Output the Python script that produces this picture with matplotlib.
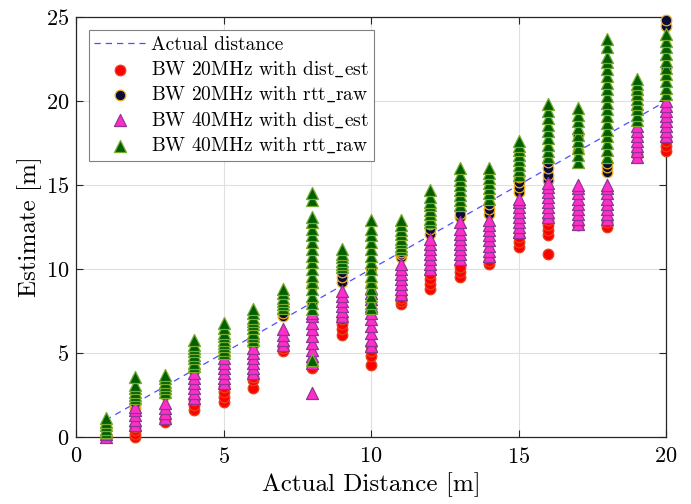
import matplotlib
matplotlib.use("Agg")
import matplotlib.pyplot as plt
import numpy as np

plt.rcParams["font.family"] = ["cmr10", "DejaVu Serif"]
plt.rcParams["mathtext.fontset"] = "cm"
plt.rcParams["axes.formatter.use_mathtext"] = True

distances = list(range(1, 21))

# BW 20MHz with dist_est, one list per actual distance
est20_dist = [
    [0.0, 0.05], [0.0, 0.2, 0.4, 0.6], [0.9, 1.1], [1.6, 1.9, 2.2],
    [2.1, 2.4, 2.7, 3.0], [2.9, 3.4, 3.6], [5.1, 5.3], [4.1, 4.4],
    [6.1, 6.4, 6.7, 7.0], [4.3, 4.8, 5.1, 5.4], [7.9, 8.1, 8.3], [8.8, 9.1, 9.4, 9.7],
    [9.5, 9.8, 10.1], [10.3, 10.5], [11.3, 11.6, 11.9], [10.9, 12.0, 12.3, 12.6, 12.9],
    [12.6], [12.5, 12.8], [16.8], [17.0, 17.3, 17.6],
]
# BW 20MHz with rtt_raw
est20_rtt = [
    [0.4, 0.6], [1.7, 1.9, 2.0], [2.5, 2.6, 2.8], [3.9, 4.1],
    [4.8, 5.0], [5.5, 5.7, 5.9], [7.2, 7.4], [8.0, 9.0],
    [9.2, 9.5, 9.8], [9.0, 10.0], [10.7, 10.9, 11.0], [12.1, 12.4, 12.7],
    [13.1, 13.3], [13.3, 13.6, 13.9], [14.6, 14.9, 15.2, 15.5], [15.3, 15.6, 16.0, 16.4],
    [17.0, 18.0], [15.8, 16.1, 16.3], [19.5, 20.5], [22.0, 24.5, 24.8],
]
# BW 40MHz with dist_est
est40_dist = [
    [0.0, 0.2], [0.7, 1.0, 1.3, 1.6, 1.8], [1.1, 1.4, 1.7, 2.0],
    [2.3, 2.6, 2.9, 3.2, 3.5, 3.8], [3.2, 3.5, 3.8, 4.1, 4.4, 4.7],
    [3.8, 4.1, 4.4, 4.7, 5.0, 5.3], [5.5, 5.8, 6.1, 6.4],
    [2.6, 4.4, 4.8, 5.2, 5.6, 6.0, 6.4, 6.8, 7.2, 7.4],
    [7.2, 7.5, 7.8, 8.1, 8.4, 8.7],
    [5.4, 5.8, 6.2, 6.6, 7.0, 7.4, 7.8, 8.2, 8.6, 8.9],
    [8.5, 8.8, 9.1, 9.4, 9.7, 10.0, 10.3],
    [10.0, 10.3, 10.6, 10.9, 11.2, 11.5, 11.8],
    [10.6, 10.9, 11.2, 11.5, 11.8, 12.1, 12.4, 12.8],
    [10.8, 11.1, 11.4, 11.7, 12.0, 12.3, 12.6, 12.9],
    [12.2, 12.5, 12.8, 13.1, 13.4, 13.7, 14.0, 14.2],
    [13.1, 13.4, 13.7, 14.0, 14.3, 14.6, 14.9, 15.1],
    [12.7, 13.0, 13.3, 13.6, 13.9, 14.2, 14.5, 14.8, 15.0],
    [13.0, 13.3, 13.6, 13.9, 14.2, 14.5, 14.8, 15.0],
    [16.7, 17.0, 17.3, 17.6, 17.9, 18.2, 18.5],
    [17.9, 18.2, 18.5, 18.8, 19.1, 19.4, 19.7, 20.0],
]
# BW 40MHz with rtt_raw
est40_rtt = [
    [0.3, 0.5, 0.7, 0.9, 1.1], [2.3, 2.5, 2.7, 2.9, 3.1, 3.6],
    [2.7, 2.9, 3.1, 3.3, 3.5, 3.7], [4.2, 4.4, 4.7, 4.9, 5.1, 5.3, 5.5, 5.8],
    [5.0, 5.2, 5.4, 5.6, 5.8, 6.0, 6.2, 6.5, 6.8],
    [5.8, 6.0, 6.2, 6.5, 6.7, 6.9, 7.1, 7.4, 7.6],
    [7.7, 7.9, 8.1, 8.3, 8.6, 8.8],
    [4.6, 7.6, 8.0, 8.4, 8.8, 9.2, 9.6, 10.0, 10.4, 10.8, 11.2, 11.6,
     12.0, 12.4, 12.8, 13.1, 14.1, 14.5],
    [10.1, 10.3, 10.5, 10.7, 10.9, 11.2],
    [7.7, 8.0, 8.4, 8.8, 9.2, 9.6, 10.0, 10.4, 10.8, 11.2, 11.6, 12.0, 12.4, 12.9],
    [11.2, 11.4, 11.6, 11.8, 12.1, 12.3, 12.6, 12.9],
    [12.8, 13.0, 13.3, 13.5, 13.8, 14.0, 14.3, 14.7],
    [13.8, 14.1, 14.4, 14.7, 15.0, 15.3, 15.6, 16.0],
    [14.2, 14.5, 14.8, 15.1, 15.4, 15.7, 16.0],
    [15.6, 15.9, 16.2, 16.5, 16.8, 17.1, 17.3, 17.6],
    [16.7, 17.0, 17.4, 17.8, 18.2, 18.6, 19.0, 19.4, 19.8],
    [16.4, 16.8, 17.2, 17.6, 18.0, 18.4, 18.8, 19.2, 19.6],
    [16.7, 17.1, 17.5, 17.9, 18.3, 18.7, 19.1, 19.5, 19.9, 20.3, 20.7,
     21.1, 21.5, 21.9, 22.3, 22.6, 23.2, 23.7],
    [18.9, 19.2, 19.5, 19.8, 20.1, 20.4, 20.7, 21.0, 21.3],
    [20.4, 20.8, 21.2, 21.6, 22.0, 22.4, 22.8, 23.2, 23.6, 24.0],
]

legend_labels = [
    "Actual distance",
    r"BW 20MHz with dist$\_$est",
    r"BW 20MHz with rtt$\_$raw",
    r"BW 40MHz with dist$\_$est",
    r"BW 40MHz with rtt$\_$raw",
]


def flatten(groups):
    xs = [d for d, vals in zip(distances, groups) for _ in vals]
    ys = [v for vals in groups for v in vals]
    return xs, ys


fig = plt.figure(figsize=(6.91, 5.04), dpi=100)
ax = fig.add_axes([0.110, 0.133, 0.854, 0.833])

ax.plot(distances, distances, "--", color="#4d4dff", lw=0.9, dashes=(5, 4),
        label=legend_labels[0], zorder=2)

# marker, face, edge, size
styles = [
    ("o", "#ff0000", "#e2451b", 58),
    ("o", "#0b0b3b", "#edb120", 58),
    ("^", "#ff2ec8", "#8e3596", 75),
    ("^", "#006000", "#77ac30", 75),
]
groups_all = [est20_dist, est20_rtt, est40_dist, est40_rtt]
for i, (groups, (mk, fc, ec, s)) in enumerate(zip(groups_all, styles)):
    xs, ys = flatten(groups)
    ax.scatter(xs, ys, marker=mk, s=s, c=fc, edgecolors=ec, linewidths=0.9,
               label=legend_labels[i + 1], zorder=3 + i, clip_on=False)

ax.set_xlim(0, 20)
ax.set_ylim(0, 25)
ax.set_xticks(np.arange(0, 21, 5))
ax.set_yticks(np.arange(0, 26, 5))
ax.grid(True, color="#e0e0e0", lw=0.8)
ax.set_axisbelow(True)
ax.tick_params(direction="in", top=True, right=True, length=5, labelsize=16,
               color="#262626")
ax.tick_params(axis="x", pad=7)
ax.tick_params(axis="y", pad=5)
for sp in ax.spines.values():
    sp.set_color("#262626")
    sp.set_linewidth(0.9)
ax.set_xlabel("Actual Distance [m]", fontsize=18, labelpad=4)
ax.set_ylabel("Estimate [m]", fontsize=18, labelpad=3)

leg = ax.legend(loc="upper left", fontsize=14, fancybox=False, framealpha=1,
                edgecolor="#808080", borderaxespad=0.65, handlelength=2.6,
                labelspacing=0.3, borderpad=0.3, handletextpad=0.3)
leg.get_frame().set_linewidth(0.8)

fig.savefig("out.png", dpi=100)
